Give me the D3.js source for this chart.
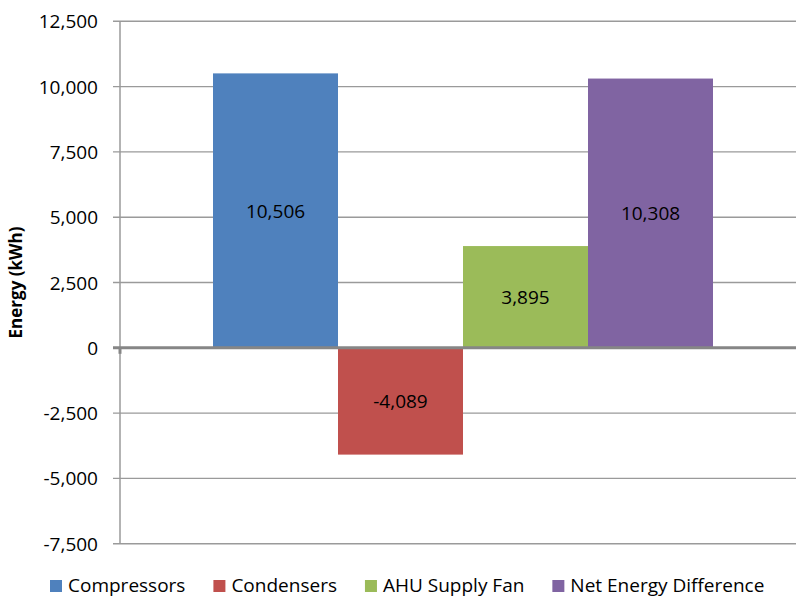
<!DOCTYPE html>
<html>
<head>
<meta charset="utf-8">
<script src="https://cdn.jsdelivr.net/npm/d3@7"></script>
<style>
  html, body { margin: 0; padding: 0; background: #fff; }
  svg { display: block; font-family: "Open Sans", "Liberation Sans", sans-serif; }
</style>
</head>
<body>
<svg id="chart" width="796" height="598"></svg>
<script>
// Energy savings by component (kWh)
const seriesNames = ["Compressors", "Condensers", "AHU Supply Fan", "Net Energy Difference"];
const seriesValues = [10506, -4089, 3895, 10308];
const seriesColors = ["#4f81bd", "#c0504d", "#9bbb59", "#8064a2"];
const yTicks = [-7500, -5000, -2500, 0, 2500, 5000, 7500, 10000, 12500];
const yTitle = "Energy (kWh)";

const svg = d3.select("#chart");
const plot = { left: 120, right: 806, top: 21.3, bottom: 543.7 };

const y = d3.scaleLinear().domain([-7500, 12500]).range([plot.bottom, plot.top]);

// one category group holding the four series side by side
const xGroup = d3.scaleBand().domain(["all"]).range([plot.left, plot.right])
  .paddingInner(0).paddingOuter(0.186);
const xSeries = d3.scaleBand().domain(seriesNames)
  .range([0, xGroup.bandwidth()]).padding(0);

// thousands separator, plain hyphen for negatives
const fmt = d => d3.format(",")(d).replace("\u2212", "-");

// horizontal gridlines with short outside ticks
const grid = svg.append("g");
grid.selectAll("line").data(yTicks.filter(d => d !== 0)).join("line")
  .attr("x1", plot.left - 7).attr("x2", plot.right)
  .attr("y1", d => y(d)).attr("y2", d => y(d))
  .attr("stroke", "#9a9a9a").attr("stroke-width", 1.4);

// vertical axis line
svg.append("line")
  .attr("x1", plot.left).attr("x2", plot.left)
  .attr("y1", plot.top).attr("y2", plot.bottom)
  .attr("stroke", "#9a9a9a").attr("stroke-width", 1.5);

// tick labels
svg.append("g").selectAll("text").data(yTicks).join("text")
  .attr("x", 98).attr("y", d => y(d))
  .attr("text-anchor", "end").attr("dominant-baseline", "central")
  .attr("font-size", 19).attr("fill", "#000")
  .text(d => fmt(d));

// bars
const gx = xGroup("all");
svg.append("g").selectAll("rect").data(seriesNames).join("rect")
  .attr("x", d => gx + xSeries(d))
  .attr("width", xSeries.bandwidth())
  .attr("y", (d, i) => y(Math.max(0, seriesValues[i])))
  .attr("height", (d, i) => Math.abs(y(seriesValues[i]) - y(0)))
  .attr("fill", (d, i) => seriesColors[i]);

// zero line over the bars
svg.append("line")
  .attr("x1", plot.left - 7).attr("x2", plot.right)
  .attr("y1", y(0)).attr("y2", y(0))
  .attr("stroke", "#868686").attr("stroke-width", 3);
svg.append("line")
  .attr("x1", plot.left).attr("x2", plot.left)
  .attr("y1", y(0)).attr("y2", y(0) + 6)
  .attr("stroke", "#868686").attr("stroke-width", 3);

// value labels in the middle of each bar
svg.append("g").selectAll("text").data(seriesNames).join("text")
  .attr("x", d => gx + xSeries(d) + xSeries.bandwidth() / 2)
  .attr("y", (d, i) => (y(seriesValues[i]) + y(0)) / 2)
  .attr("text-anchor", "middle").attr("dominant-baseline", "central")
  .attr("font-size", 19).attr("fill", "#000")
  .text((d, i) => fmt(seriesValues[i]));

// y-axis title
svg.append("text")
  .attr("transform", `translate(22, ${(220 + 345) / 2}) rotate(-90)`)
  .attr("text-anchor", "middle")
  .attr("font-size", 17).attr("font-weight", "bold").attr("fill", "#000")
  .text(yTitle);

// legend along the bottom
const legend = svg.append("g");
let lx = 50;
seriesNames.forEach((name, i) => {
  legend.append("rect")
    .attr("x", lx).attr("y", 580).attr("width", 12).attr("height", 12)
    .attr("fill", seriesColors[i]);
  const t = legend.append("text")
    .attr("x", lx + 18).attr("y", 592)
    .attr("font-size", 19).attr("fill", "#000")
    .text(name);
  lx += 18 + t.node().getComputedTextLength() + 28;
});
</script>
</body>
</html>
